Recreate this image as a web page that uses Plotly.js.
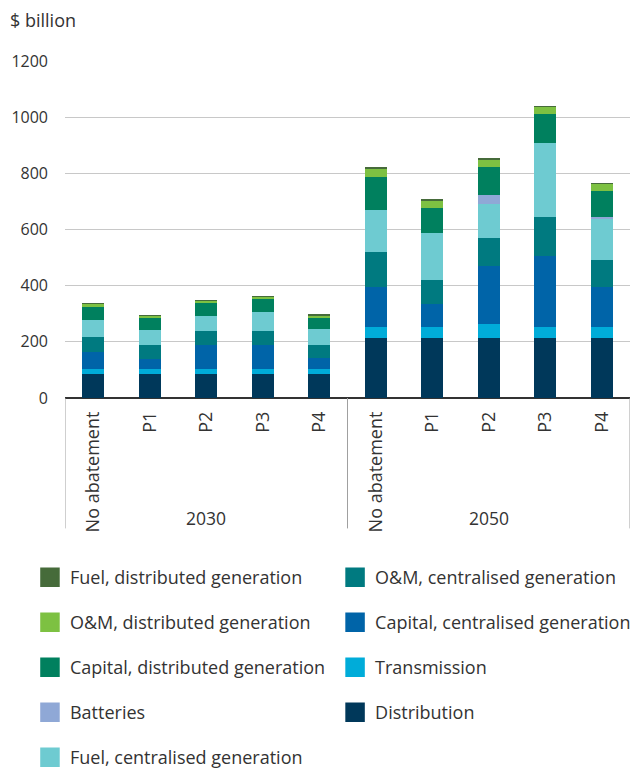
<!DOCTYPE html>
<html>
<head>
<meta charset="utf-8">
<script src="https://cdn.plot.ly/plotly-3.0.1.min.js"></script>
<style>html,body{margin:0;padding:0;background:#fff}#chart{width:630px;height:771px}</style>
</head>
<body>
<div id="chart"></div>
<script>
var years = ['2030','2030','2030','2030','2030','2050','2050','2050','2050','2050'];
var scenarios = ['No abatement','P1','P2','P3','P4','No abatement','P1','P2','P3','P4'];

var distribution = [84,84,84,84,84,212,212,212,212,212];
var transmission = [18,18,18,18,18,41,41,50,41,41];
var capitalCentral = [63,38,85,86,42,144,80,207,251,144];
var omCentral = [51,49,51,50,45,123,88,99,141,96];
var fuelCentral = [60,54,55,70,56,151,168,124,263,143];
var batteries = [0,0,0,0,0,0,0,32,0,8];
var capitalDistributed = [49,43,45,44,40,115,89,98,102,92];
var omDistributed = [10,7,8,8,8,30,25,26,27,26];
var fuelDistributed = [5,2,2,5,5,6,5,5,4,4];

var yTicks = [0,200,400,600,800,1000,1200];

var keys = years.map(function(y,i){return y+' '+scenarios[i];});

var FONT = 'Open Sans, sans-serif';
var TXT = '#333333';

var series = [
  {name:'Distribution', y:distribution, color:'#00385a'},
  {name:'Transmission', y:transmission, color:'#00acd9'},
  {name:'Capital, centralised generation', y:capitalCentral, color:'#0064a8'},
  {name:'O&M, centralised generation', y:omCentral, color:'#007a80'},
  {name:'Fuel, centralised generation', y:fuelCentral, color:'#6ecbd1'},
  {name:'Batteries', y:batteries, color:'#8fa8d6'},
  {name:'Capital, distributed generation', y:capitalDistributed, color:'#00805e'},
  {name:'O&M, distributed generation', y:omDistributed, color:'#7dc142'},
  {name:'Fuel, distributed generation', y:fuelDistributed, color:'#466b3a'}
];

var traces = [];
series.forEach(function(s){
  traces.push({type:'bar', x:keys, y:s.y, name:s.name, marker:{color:s.color, line:{width:0}},
    showlegend:false, hoverinfo:'name+y'});
});
// legend entries (column-wise order as in reference)
var col1 = ['Fuel, distributed generation','O&M, distributed generation','Capital, distributed generation','Batteries','Fuel, centralised generation'];
var col2 = ['O&M, centralised generation','Capital, centralised generation','Transmission','Distribution'];
function findS(n){for(var i=0;i<series.length;i++){if(series[i].name===n)return series[i];}}
col1.concat(col2).forEach(function(n,k){
  var s = findS(n);
  traces.push({type:'scatter', mode:'markers', x:[null], y:[null], name:n,
    legend: col1.indexOf(n)>=0 ? 'legend' : 'legend2',
    legendgroup:'g'+k, legendrank:k+1,
    marker:{symbol:'square', size:16, color:s.color, line:{width:3.5,color:s.color}},
    hoverinfo:'skip', showlegend:true});
});

var legendBase = {orientation:'v', traceorder:'grouped', tracegroupgap:18.6,
  font:{family:FONT, size:18, color:TXT}, bgcolor:'rgba(0,0,0,0)', borderwidth:0,
  xanchor:'left', yanchor:'top', itemclick:false, itemdoubleclick:false};

var layout = {
  width:630, height:771,
  margin:{l:65, r:0, t:61, b:373.3, pad:0, autoexpand:false},
  paper_bgcolor:'#fff', plot_bgcolor:'#fff',
  barmode:'stack', bargap:0.605,
  font:{family:FONT, size:16, color:TXT},
  showlegend:true,
  legend: Object.assign({}, legendBase, {x:-0.062, y:-0.478}),
  legend2: Object.assign({}, legendBase, {x:0.478, y:-0.478}),
  xaxis:{type:'category', tickvals:keys, ticktext:scenarios, tickangle:-90,
    showgrid:false, zeroline:false, showline:false, ticks:'', automargin:false,
    ticklabelstandoff:9,
    tickfont:{family:FONT, size:18, color:TXT}, range:[-0.5, 9.5], fixedrange:true},
  yaxis:{range:[0,1200], tickvals:yTicks, showgrid:true, gridcolor:'#c8c8c8', gridwidth:1,
    zeroline:true, zerolinecolor:'#333333', zerolinewidth:1.5, showline:false, ticks:'',
    automargin:false,
    ticklabelstandoff:16, tickfont:{family:FONT, size:16, color:TXT}, fixedrange:true},
  annotations:[
    {text:'$ billion', xref:'paper', yref:'paper', x:-0.101, y:1.122, xanchor:'left', yanchor:'middle',
     showarrow:false, font:{family:FONT, size:18, color:TXT}},
    {text:years[2], xref:'x', yref:'paper', x:keys[2], y:-0.357, xanchor:'center', yanchor:'middle',
     showarrow:false, font:{family:FONT, size:17.5, color:TXT}},
    {text:years[7], xref:'x', yref:'paper', x:keys[7], y:-0.357, xanchor:'center', yanchor:'middle',
     showarrow:false, font:{family:FONT, size:17.5, color:TXT}}
  ],
  shapes:[-0.5, 4.5, 9.5].map(function(p){
    return {type:'line', xref:'x', yref:'paper', x0:p, x1:p, y0:0, y1:-0.387,
      line:{color:'#a0a0a0', width:1}};
  })
};

Plotly.newPlot('chart', traces, layout, {displayModeBar:false, staticPlot:true});
</script>
</body>
</html>
